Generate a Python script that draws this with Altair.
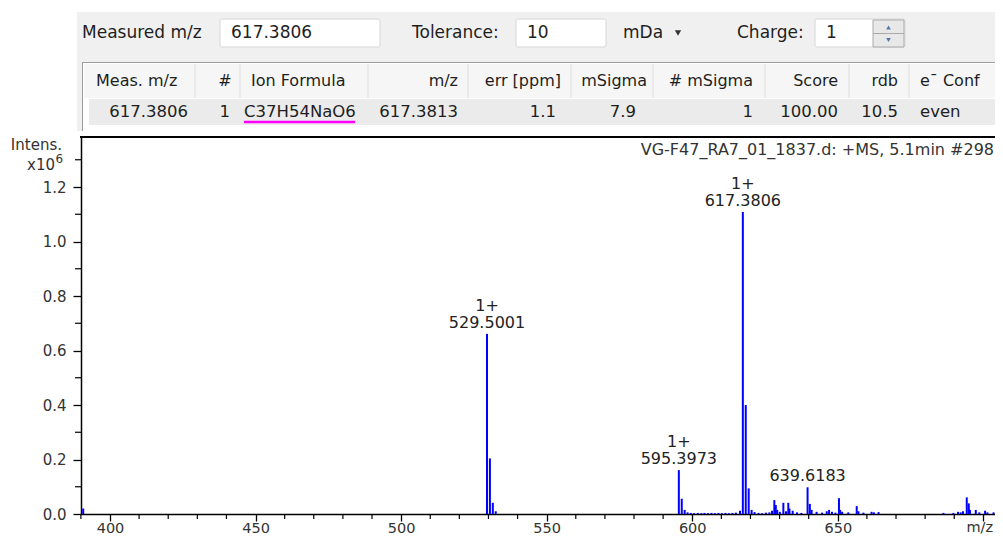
import altair as alt
import pandas as pd

# ---------------- data ----------------
peak_mz = [390.8, 529.50, 530.50, 531.50, 532.50, 595.3973, 596.40, 597.40, 598.40,
           599.5, 600.6, 601.9, 603.1, 604.2, 605.4, 606.6, 607.8, 609.0, 610.2, 611.4,
           612.6, 613.8, 615.0, 616.4, 617.3806, 618.38, 619.39, 620.39, 621.4, 622.8,
           624.0, 625.3, 626.5, 627.4, 628.2, 628.7, 629.2, 630.1, 631.3, 632.2, 633.0,
           633.4, 634.5, 636.0, 637.5, 639.6183, 640.4, 641.0, 642.7, 644.6, 646.2, 647.0,
           648.0, 649.2, 650.4, 650.8, 651.5, 653.6, 656.5, 657.1, 658.8, 661.6, 662.4,
           664.0, 686.3, 689.7, 691.3, 692.2, 693.0, 694.3, 695.0, 695.4, 697.4, 698.6,
           700.6, 701.4, 703.5]
peak_int = [0.020, 0.661, 0.204, 0.041, 0.010, 0.161, 0.056, 0.015, 0.006,
            0.004, 0.003, 0.004, 0.003, 0.004, 0.003, 0.004, 0.003, 0.004, 0.003, 0.004,
            0.003, 0.004, 0.005, 0.012, 1.108, 0.400, 0.094, 0.015, 0.007, 0.004,
            0.003, 0.005, 0.006, 0.012, 0.051, 0.033, 0.015, 0.008, 0.041, 0.010, 0.041,
            0.020, 0.012, 0.006, 0.004, 0.098, 0.037, 0.015, 0.008, 0.005, 0.010, 0.015,
            0.008, 0.005, 0.058, 0.015, 0.008, 0.006, 0.029, 0.010, 0.005, 0.008, 0.006,
            0.007, 0.004, 0.004, 0.008, 0.006, 0.010, 0.061, 0.039, 0.015, 0.015, 0.006,
            0.012, 0.006, 0.006]

label_mz = [529.5001, 595.3973, 617.3806, 639.6183]
label_int = [0.661, 0.161, 1.108, 0.098]
label_txt = ["529.5001", "595.3973", "617.3806", "639.6183"]
label_charge = ["1+", "1+", "1+", ""]

x_major = [400, 450, 500, 550, 600, 650, 700]
x_minor = [390, 410, 420, 430, 440, 460, 470, 480, 490, 510, 520, 530, 540, 560, 570,
           580, 590, 610, 620, 630, 640, 660, 670, 680, 690]
y_major = [0.0, 0.2, 0.4, 0.6, 0.8, 1.0, 1.2]
y_minor = [0.1, 0.3, 0.5, 0.7, 0.9, 1.1, 1.3]

title_text = "VG-F47_RA7_01_1837.d: +MS, 5.1min #298"
x_title = "m/z"
y_title = "Intens."

form_labels = ["Measured m/z", "Tolerance:", "mDa", "Charge:"]
form_values = ["617.3806", "10", "1"]
table_headers = ["Meas. m/z", "#", "Ion Formula", "m/z", "err [ppm]", "mSigma",
                 "# mSigma", "Score", "rdb", "e\u00af Conf"]
table_row = ["617.3806", "1", "C37H54NaO6", "617.3813", "1.1", "7.9", "1",
             "100.00", "10.5", "even"]

# ---------------- layout ----------------
OX, OY = 81, 137          # page position of plot origin
W, H = 914, 377
FONT = "DejaVu Sans"
one = pd.DataFrame({"k": [0]})


def T(s, px, py, size=17, align="left", color="#1e1e1e", baseline="middle"):
    return alt.Chart(one).mark_text(text=s, align=align, baseline=baseline, font=FONT,
                                    fontSize=size, color=color).encode(
        x=alt.value(px - OX), y=alt.value(py - OY))


def R(x1, y1, x2, y2, fill, stroke=None, sw=1.0, radius=0):
    kw = dict(fill=fill, cornerRadius=radius)
    if stroke is not None:
        kw.update(stroke=stroke, strokeWidth=sw)
    else:
        kw.update(strokeWidth=0)
    return alt.Chart(one).mark_rect(**kw).encode(
        x=alt.value(x1 - OX), x2=alt.value(x2 - OX),
        y=alt.value(y1 - OY), y2=alt.value(y2 - OY))


def L(x1, y1, x2, y2, color, sw=1.0):
    return alt.Chart(one).mark_rule(color=color, strokeWidth=sw).encode(
        x=alt.value(x1 - OX), x2=alt.value(x2 - OX),
        y=alt.value(y1 - OY), y2=alt.value(y2 - OY))


def P(px, py, shape, color, size=30):
    return alt.Chart(one).mark_point(shape=shape, filled=True, color=color, size=size,
                                     opacity=1).encode(
        x=alt.value(px - OX), y=alt.value(py - OY))


layers = []
# header panel
layers.append(R(77, 12, 1010, 131, "#f0f0f0"))
layers += [R(220, 19, 380, 47, "white", "#d6d6d6", radius=2),
           R(516, 19, 606, 47, "white", "#d6d6d6", radius=2),
           R(815, 19, 905, 47, "white", "#d6d6d6", radius=2),
           R(873, 20, 904, 47, "#e8e8e8", "#a9a9a9"),
           L(873, 33.5, 904, 33.5, "#a9a9a9"),
           P(888.5, 27.5, "triangle-up", "#5576ad", 22),
           P(888.5, 40, "triangle-down", "#5576ad", 22)]
layers += [T(form_labels[0], 82, 33), T(form_values[0], 231, 33),
           T(form_labels[1], 412, 33), T(form_values[1], 527, 33),
           T(form_labels[2], 623, 33), P(678, 33, "triangle-down", "#333333", 40),
           T(form_labels[3], 737, 33), T(form_values[2], 826, 33)]
# table
layers += [R(82, 62, 1000, 131, "white"),
           L(82.5, 62, 82.5, 131, "#9c9c9c"),
           L(82, 62.5, 1000, 62.5, "#9c9c9c"),
           R(84, 64, 999, 98, "#f6f6f6"),
           R(89, 99, 999, 125, "#ebebeb")]
for sx in [195, 240, 368, 468, 571, 653, 765, 849, 909]:
    layers.append(L(sx, 64, sx, 98, "#dedede"))
hdr_pos = [(96, "left"), (225, "center"), (251, "left"), (458, "right"), (561, "right"),
           (647, "right"), (753, "right"), (838, "right"), (898, "right"), (920, "left")]
row_pos = [(188, "right"), (230, "right"), (244, "left"), (458, "right"), (556, "right"),
           (636, "right"), (753, "right"), (838, "right"), (898, "right"), (920, "left")]
for s, (px, al) in zip(table_headers, hdr_pos):
    layers.append(T(s, px, 81, size=16, align=al))
for s, (px, al) in zip(table_row, row_pos):
    layers.append(T(s, px, 112, size=16.5, align=al))
layers.append(L(244, 122, 355, 122, "#ff00ff", 2.5))

# ---------------- spectrum ----------------
xs = alt.Scale(domain=[390.04, 704.0], nice=False, zero=False)
ys = alt.Scale(domain=[0, 1.3835], nice=False, zero=False)

peaks = pd.DataFrame({"mz": peak_mz, "inten": peak_int})
labels = pd.DataFrame({"mz": label_mz, "inten": label_int, "lab": label_txt,
                       "charge": label_charge})

x_axis = alt.Axis(values=x_major, labelExpr="datum.value == 700 ? '' : datum.label",
                  format="d", tickSize=7, tickWidth=1.3, tickColor="black",
                  domainColor="black", domainWidth=1.5, labelFont=FONT, labelFontSize=14.5,
                  labelColor="#333333", labelPadding=0, labelFlush=False,
                  labelOverlap=False, grid=False, title=None)
y_axis = alt.Axis(values=y_major, format=".1f", tickSize=8, tickWidth=1.3,
                  tickColor="black", domainColor="black", domainWidth=1.5,
                  labelFont=FONT, labelFontSize=15, labelColor="#333333",
                  labelPadding=7, labelOverlap=False, grid=False, title=None)

X = alt.X("mz:Q", scale=xs, axis=x_axis)
Y = alt.Y("inten:Q", scale=ys, axis=y_axis)

sticks = alt.Chart(peaks).mark_rule(color="#0000ff", strokeWidth=2).encode(
    x=X, y=Y, y2=alt.datum(0))

xminor = alt.Chart(pd.DataFrame({"mz": x_minor})).mark_rule(
    color="black", strokeWidth=1.2).encode(x=X, y=alt.value(H), y2=alt.value(H + 5))
yminor = alt.Chart(pd.DataFrame({"inten": y_minor})).mark_rule(
    color="black", strokeWidth=1.2).encode(y=Y, x=alt.value(-6), x2=alt.value(0))

lab_num = alt.Chart(labels).mark_text(font=FONT, fontSize=16, color="#222222",
                                      baseline="alphabetic", dy=-6).encode(
    x=X, y=Y, text="lab:N")
lab_chg = alt.Chart(labels).mark_text(font=FONT, fontSize=16, color="#222222",
                                      baseline="alphabetic", dy=-23).encode(
    x=X, y=Y, text="charge:N")

frame_top = L(OX - 1, OY, OX + W + 10, OY, "black", 2)

layers += [frame_top,
           T(title_text, 994, 150, size=16, align="right", color="#333333"),
           T(y_title, 62, 145, size=15, align="right", color="#333333"),
           T("x10", 55, 165, size=15, align="right", color="#333333"),
           T("6", 55.5, 159, size=12, align="left", color="#333333"),
           T(x_title, 993, 521, size=14.5, align="right", color="#333333", baseline="top"),
           sticks, xminor, yminor, lab_num, lab_chg]

chart = alt.layer(*layers).properties(
    width=W, height=H,
    padding={"left": OX - 8, "top": OY - 8, "right": 0, "bottom": 30},
    autosize=alt.AutoSizeParams(type="none"),
    background="white",
).configure_view(stroke=None)

chart.save("out.html", embed_options={"renderer": "svg", "actions": False})
